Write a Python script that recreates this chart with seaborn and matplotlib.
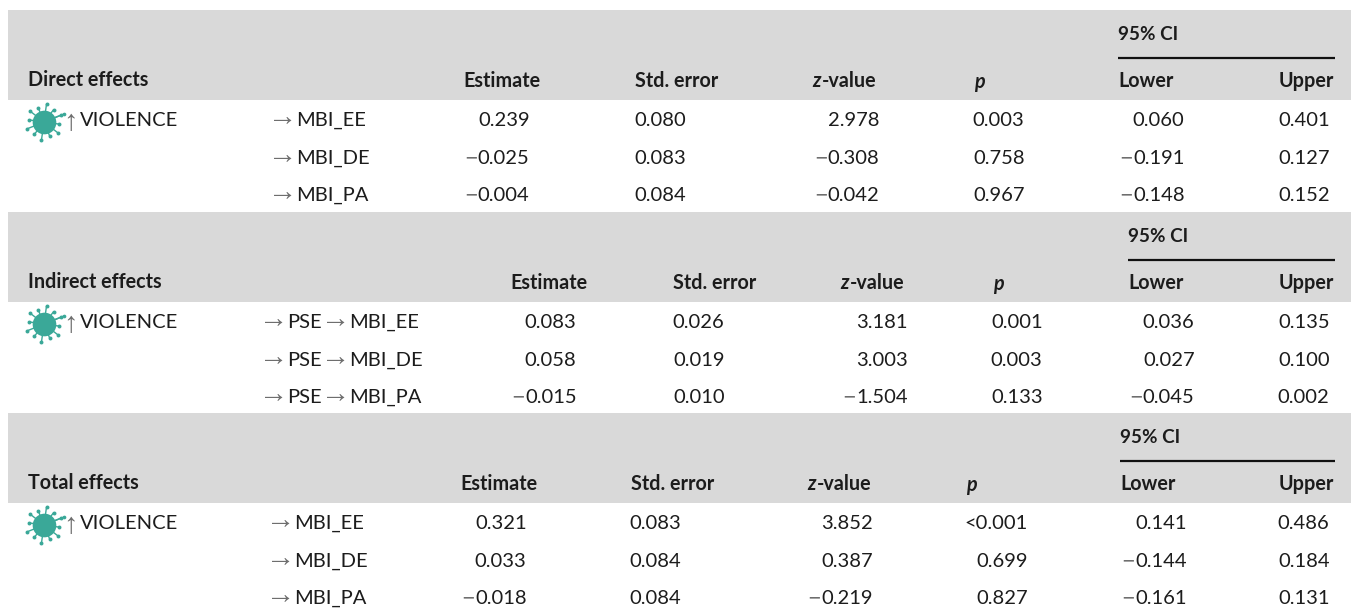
import numpy as np
import matplotlib
matplotlib.use('Agg')
import matplotlib.pyplot as plt
import seaborn as sns

# Table contents
col_names = ['Estimate', 'Std. error', 'z-value', 'p', 'Lower', 'Upper']
ci_label = '95% CI'
exposure = 'VIOLENCE'

direct_paths = ['MBI_EE', 'MBI_DE', 'MBI_PA']
direct_values = [['0.239', '0.080', '2.978', '0.003', '0.060', '0.401'],
                 ['-0.025', '0.083', '-0.308', '0.758', '-0.191', '0.127'],
                 ['-0.004', '0.084', '-0.042', '0.967', '-0.148', '0.152']]

indirect_paths = ['PSE → MBI_EE', 'PSE → MBI_DE', 'PSE → MBI_PA']
indirect_values = [['0.083', '0.026', '3.181', '0.001', '0.036', '0.135'],
                   ['0.058', '0.019', '3.003', '0.003', '0.027', '0.100'],
                   ['-0.015', '0.010', '-1.504', '0.133', '-0.045', '0.002']]

total_paths = ['MBI_EE', 'MBI_DE', 'MBI_PA']
total_values = [['0.321', '0.083', '3.852', '<0.001', '0.141', '0.486'],
                ['0.033', '0.084', '0.387', '0.699', '-0.144', '0.184'],
                ['-0.018', '0.084', '-0.219', '0.827', '-0.161', '0.131']]

# Layout of each block, in pixels of the page
panels = [
    dict(title='Direct effects', paths=direct_paths, values=direct_values, top=10,
         path_x=268, head_x=[463.4, 634.6, 812, 974, 1118.4, 1279],
         val_x=[529, 686, 879, 1024, 1184, 1329]),
    dict(title='Indirect effects', paths=indirect_paths, values=indirect_values, top=212,
         path_x=259, head_x=[510.4, 672.6, 840, 993, 1128.4, 1279],
         val_x=[576, 724, 907, 1042, 1194, 1329]),
    dict(title='Total effects', paths=total_paths, values=total_values, top=413,
         path_x=266, head_x=[460.4, 630.6, 807, 966, 1120.4, 1279],
         val_x=[526, 681, 872, 1027, 1186, 1329]),
]

band_color = '#d9d9d9'
ink = '#1c1c1c'
arrow_grey = '#6e6e6e'
virus_color = '#3aa898'
FONT = ['Lato', 'DejaVu Sans']
SIZE = 14.2
BODY = 14.5

sns.set_theme(style='white')
plt.rcParams['font.family'] = FONT

fig = plt.figure(figsize=(13.51, 6.08), dpi=100)
ax = fig.add_axes([0, 0, 1, 1])
ax.set_xlim(0, 1351)
ax.set_ylim(608, 0)
ax.axis('off')
sns.despine(ax=ax, left=True, bottom=True)
rend = fig.canvas.get_renderer()


def runs(x, y, parts, gap=0):
    # write pieces one after another, each with its own style
    for txt, kw in parts:
        dy = kw.pop('dy', 0)
        t = ax.text(x, y + dy, txt, ha='left', va='center_baseline', fontsize=kw.pop('size', SIZE),
                    color=kw.pop('color', ink), **kw)
        x = t.get_window_extent(rend).x1 + gap


def value(x, y, s):
    t = ax.text(x + 0.6, y, s.lstrip('-'), ha='right', va='center_baseline', fontsize=BODY, color=ink)
    if s.startswith('-'):
        left = t.get_window_extent(rend).x0
        ax.text(left, y, '\u2212', ha='right', va='center_baseline', fontsize=17, color=arrow_grey)


def virus(cx, cy):
    angles = np.deg2rad(np.arange(0, 360, 30) + 8)
    for i, a in enumerate(angles):
        r = 18 if i % 2 else 15.5
        ex, ey = cx + r * np.cos(a), cy + r * np.sin(a)
        ax.plot([cx, ex], [cy, ey], color=virus_color, lw=1.0, zorder=3)
        ax.scatter([ex], [ey], s=8, color=virus_color, linewidths=0, zorder=3)
    ax.plot([cx, cx + 20], [cy, cy - 8], color=virus_color, lw=1.0, zorder=3)
    ax.scatter([cx + 20], [cy - 8], s=7, color=virus_color, linewidths=0, zorder=3)
    ax.scatter([cx], [cy], s=290, color=virus_color, linewidths=0, zorder=4)


arrow_style = dict(color=arrow_grey, size=21, family='Liberation Sans', dy=-5)

for p in panels:
    top = p['top']
    ax.axhspan(top, top + 90, xmin=8 / 1351, xmax=1, color=band_color, lw=0, zorder=0)

    # heading rows
    ax.text(28, top + 68, p['title'], fontweight='bold', fontsize=SIZE, color=ink, va='center_baseline')
    ax.text(p['head_x'][4], top + 23, ci_label, fontweight='bold', fontsize=SIZE - 0.6, color=ink,
            va='center_baseline')
    ax.plot([p['head_x'][4], 1335], [top + 48, top + 48], color='#111111', lw=1.6, solid_capstyle='butt')
    for name, hx in zip(col_names, p['head_x']):
        if name == 'z-value':
            runs(hx, top + 69, [('z', dict(fontweight='bold', fontstyle='italic')),
                                ('-value', dict(fontweight='bold'))], gap=1)
        elif name == 'p':
            runs(hx, top + 70, [('p', dict(fontweight='bold', fontstyle='italic'))])
        else:
            ax.text(hx, top + 69, name, fontweight='bold', fontsize=SIZE, color=ink, va='center_baseline')

    # body rows
    row_y = [top + 109, top + 147, top + 184]
    virus(44, row_y[0] + 3)
    ax.text(70, row_y[0], '↑', ha='center', va='center_baseline', color=arrow_grey, fontsize=21,
            family='Liberation Sans')
    ax.text(80, row_y[0], exposure, ha='left', va='center_baseline', fontsize=BODY, color=ink)
    for y, path, vals in zip(row_y, p['paths'], p['values']):
        parts = []
        for piece in path.split(' → '):
            parts += [('→', dict(arrow_style)), (piece, dict(size=BODY))]
        runs(p['path_x'], y, parts, gap=-1)
        for s, vx in zip(vals, p['val_x']):
            value(vx, y, s)

fig.savefig('out.png', dpi=100)
